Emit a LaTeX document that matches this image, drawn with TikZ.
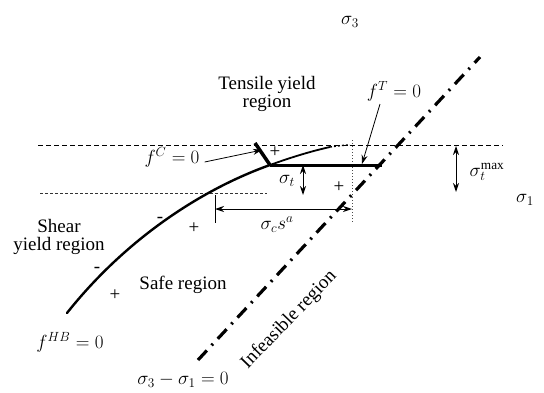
\RequirePackage{fix-cm}
\documentclass[tikz,border=0pt]{standalone}
\usepackage{fontspec}
\setmainfont{Liberation Serif}
\usetikzlibrary{arrows.meta}
\tikzset{
  lbl/.style={inner sep=0pt, align=center},
  arr/.style={-{Stealth[length=9pt,width=6pt]}, line width=0.8pt},
  dbl/.style={{Stealth[length=9pt,width=6pt]}-{Stealth[length=9pt,width=6pt]}, line width=1pt},
  guideA/.style={line width=0.8pt, dash pattern=on 5pt off 3pt},
  guideB/.style={line width=0.6pt, dash pattern=on 2.5pt off 2.5pt, black!80},
  guideC/.style={line width=0.5pt, dash pattern=on 1pt off 2pt, black!70},
  dashdot/.style={line width=3.2pt, dash pattern=on 13pt off 7pt on 2pt off 7pt},
}
\begin{document}
\begin{tikzpicture}[x=1pt,y=-1pt,font=\fontsize{19}{18}\selectfont]
\useasboundingbox (0,0) rectangle (544,392);

% guide lines
\coordinate (gA1) at (38,145);  \coordinate (gA2) at (503,145);
\coordinate (gB1) at (40,193);  \coordinate (gB2) at (267,193);
\coordinate (gC1) at (352,140); \coordinate (gC2) at (352,222);
\draw[guideA] (gA1) -- (gA2);
\draw[guideB] (gB1) -- (gB2);
\draw[guideC] (gC1) -- (gC2);

% sigma3 - sigma1 = 0 line
\coordinate (dd1) at (198,360); \coordinate (dd2) at (480,57);
\draw[dashdot] (dd1) -- (dd2);

% Hoek-Brown curve
\coordinate (hbStart) at (67,313);
\coordinate (corner) at (270,165);
\coordinate (hbEnd) at (330,147);
\coordinate (hbTip) at (350,145);
\draw[line width=2.4pt, line cap=round] (hbStart) .. controls (125,240) and (200,190) .. (corner);
\draw[line width=1.8pt] (corner) .. controls (292,157) and (312,151) .. (hbEnd);
\draw[line width=1.4pt, dash pattern=on 2pt off 2pt] (hbEnd) .. controls (338,146) and (344,145) .. (hbTip);

% tension cut-off and compression lines
\coordinate (fTend) at (382,165);
\draw[line width=3pt] (corner) -- (fTend);
\coordinate (fCtop) at (255,143);
\draw[line width=3.5pt] (fCtop) -- (corner);

% labels
\node[lbl] (s3) at (350,22) {$\sigma_3$};
\node[lbl] (s1) at (525,200) {$\sigma_1$};
\node[lbl] (tens) at (267,94) {Tensile yield\\region};
\node[lbl] (fT) at (394,91) {$f^{T}=0$};
\node[lbl] (fC) at (172,157) {$f^{C}=0$};
\node[lbl] (st) at (287,181) {$\sigma_t$};
\node[lbl] (stmax) at (487,172) {$\sigma_t^{\mathrm{max}}$};
\node[lbl] (scsa) at (277,225) {$\sigma_c s^a$};
\node[lbl] (shear) at (59,237) {Shear\\yield region};
\node[lbl] (safe) at (183,285) {Safe region};
\node[lbl] (fHB) at (70,342) {$f^{HB}=0$};
\node[lbl] (line0) at (183,380) {$\sigma_3-\sigma_1=0$};
\node[lbl, rotate=46] (infeas) at (289,320) {Infeasible region};

% signs
\node[lbl] (p1) at (275,152) {+};
\node[lbl] (p2) at (339,187) {+};
\node[lbl] (p3) at (194,228) {+};
\node[lbl] (p4) at (115,295) {+};
\node[lbl] (m1) at (160,220) {-};
\node[lbl] (m2) at (97,270) {-};

% pointer arrows
\coordinate (fCpt) at (262,150);
\draw[arr] ([shift={(5,5)}]fC.east) -- (fCpt);
\coordinate (fTpt) at (362,164);
\draw[arr] ([shift={(-14,3)}]fT.south) -- (fTpt);

% dimension arrows
\coordinate (stA) at (303,165); \coordinate (stB) at (303,195);
\draw[dbl] (stA) -- (stB);
\coordinate (smA) at (456,146); \coordinate (smB) at (456,192);
\draw[dbl] (smA) -- (smB);
\coordinate (tk1) at (215,195); \coordinate (tk2) at (215,223);
\draw[line width=1pt] (tk1) -- (tk2);
\coordinate (caL) at (215,209); \coordinate (caR) at (352,209);
\draw[dbl] (caL) -- (caR);
\end{tikzpicture}
\end{document}
